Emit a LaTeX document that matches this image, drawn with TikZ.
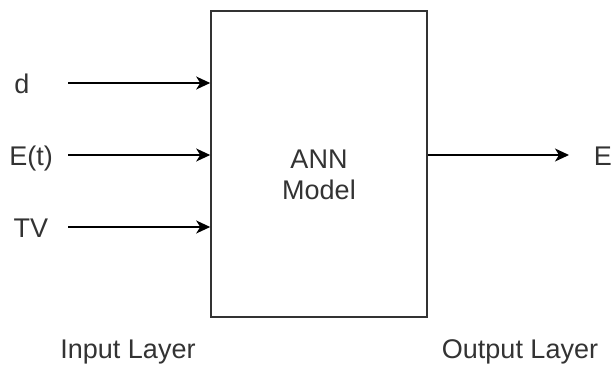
\documentclass[tikz,border=0pt]{standalone}
\usepackage{fontspec}
\setmainfont{Liberation Sans}
\usetikzlibrary{arrows.meta}
\begin{document}
\begin{tikzpicture}[x=1pt,y=-1pt,font=\fontsize{27}{32}\selectfont,
                    lbl/.style={text=black!80,anchor=base,inner sep=0pt},
                    conn/.style={-{Stealth[length=14pt,width=13pt,inset=4pt]},line width=1.4pt}]
                    \useasboundingbox (0,0) rectangle (614,367);
                    \node (ann) [draw=black!80,line width=1.6pt,minimum width=216pt,minimum height=306pt] at (319,164) {};
                    \node (annA) [lbl] at (319,168) {ANN};
                    \node (annM) [lbl] at (319,199) {Model};
                    % inputs
                    \node (d) [lbl] at (22,93) {d};
                    \node (et) [lbl] at (31,165) {E(t)};
                    \node (tv) [lbl] at (31,237) {TV};
                    \coordinate (din) at (68,83);
                    \coordinate (etin) at (68,155);
                    \coordinate (tvin) at (68,227);
                    \draw [conn] (din) -- (din -| ann.west);
                    \draw [conn] (etin) -- (etin -| ann.west);
                    \draw [conn] (tvin) -- (tvin -| ann.west);
                    % output
                    \coordinate (eout) at (569,155);
                    \draw [conn] (ann.east |- eout) -- (eout);
                    \node (e) [lbl] at (603,165) {E};
                    \node (inl) [lbl] at (128,358) {Input Layer};
                    \node (outl) [lbl] at (520,358) {Output Layer};
                \end{tikzpicture}
\end{document}
